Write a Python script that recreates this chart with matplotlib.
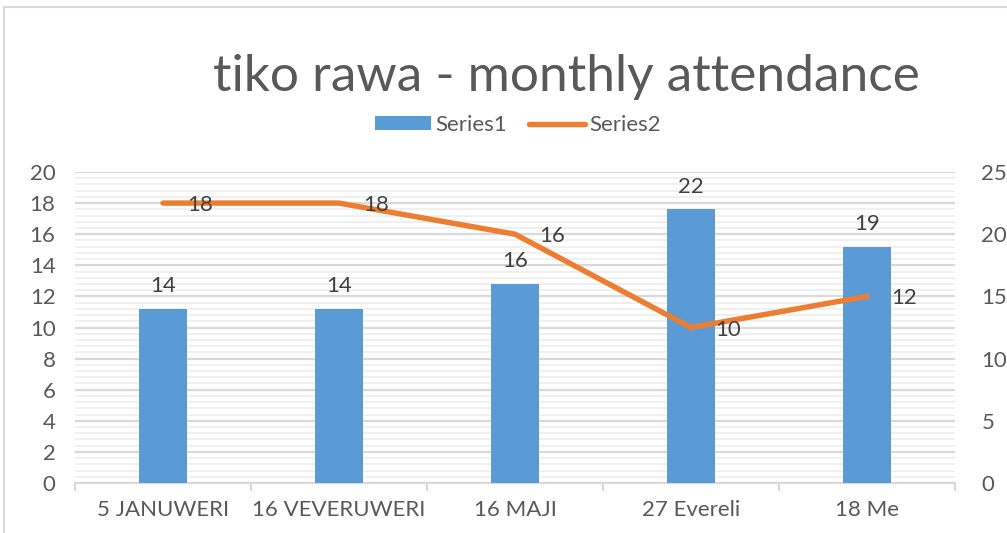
import matplotlib
matplotlib.use("Agg")
import matplotlib.pyplot as plt
from matplotlib.lines import Line2D
from matplotlib.patches import Patch
import numpy as np

categories = ["5 JANUWERI", "16 VEVERUWERI", "16 MAJI", "27 Evereli", "18 Me"]
series1 = [14, 14, 16, 22, 19]
series2 = [18, 18, 16, 10, 12]
title = "tiko rawa - monthly attendance"

plt.rcParams['font.family'] = ['Lato', 'DejaVu Sans']
TXT = "#595959"
BLUE = "#5B9BD5"
ORANGE = "#ED7D31"
GRID_MAJ = "#D9D9D9"
GRID_MIN = "#EEEEEE"
FS = 16

fig = plt.figure(figsize=(10.07, 5.33), dpi=100)
W, H = 1007, 533
ax = fig.add_axes([75 / W, 1 - 483 / H, (955 - 75) / W, (483 - 172) / H])
x = np.arange(len(categories))

# left axis: grid + labels
ax.set_ylim(0, 20)
ax.set_xlim(-0.5, len(categories) - 0.5)
ax.set_yticks(np.arange(0, 21, 2))
ax.set_yticks(np.arange(0, 20.01, 0.4), minor=True)
ax.grid(axis='y', which='major', color=GRID_MAJ, linewidth=1.6)
ax.grid(axis='y', which='minor', color=GRID_MIN, linewidth=1.2)
ax.set_axisbelow(True)
ax.tick_params(axis='y', which='both', length=0, labelsize=FS, labelcolor=TXT, pad=14)
ax.set_xticks(x)
ax.set_xticklabels(categories)
ax.set_xticks(np.arange(-0.5, len(categories)), minor=True)
ax.tick_params(axis='x', which='major', length=0, labelsize=FS, labelcolor=TXT, pad=12)
ax.tick_params(axis='x', which='minor', length=6, color=GRID_MAJ, width=1.5)
for s in ['top', 'left', 'right']:
    ax.spines[s].set_visible(False)
ax.spines['bottom'].set_color(GRID_MAJ)
ax.spines['bottom'].set_linewidth(1.5)

# right axis: bars
ax2 = ax.twinx()
ax2.set_ylim(0, 25)
ax2.set_yticks(np.arange(0, 26, 5))
ax2.tick_params(axis='y', length=0, labelsize=FS, labelcolor=TXT, pad=19)
for s in ax2.spines.values():
    s.set_visible(False)
bars = ax2.bar(x, series1, width=0.27, color=BLUE, zorder=2)
ax2.bar_label(bars, labels=[str(v) for v in series1], padding=9, fontsize=FS, color="#404040")

# line on top (left scale)
ax3 = ax.twinx()
ax3.set_ylim(0, 20)
ax3.set_yticks([])
for s in ax3.spines.values():
    s.set_visible(False)
ax3.plot(x, series2, color=ORANGE, linewidth=3.9, solid_capstyle='round', zorder=3)
for xi, v in zip(x, series2):
    ax3.annotate(str(v), (xi, v), xytext=(37, -2), textcoords='offset pixels',
                 ha='center', va='center', fontsize=FS, color="#404040")

fig.text(566 / W, 1 - 77 / H, title, ha='center', va='center', fontsize=37, color=TXT)

handles = [Patch(facecolor=BLUE, edgecolor='none'),
           Line2D([0], [0], color=ORANGE, linewidth=3.9, solid_capstyle='round')]
fig.legend(handles, ["Series1", "Series2"], loc='center', bbox_to_anchor=(518 / W, 1 - 125 / H),
           ncol=2, frameon=False, fontsize=FS, labelcolor=TXT, handlelength=2.5,
           handleheight=0.55, handletextpad=0.2, columnspacing=1.0)

# outer chart frame
fig.add_artist(Line2D([4 / W, 1], [1 - 7 / H, 1 - 7 / H], color="#D9D9D9", linewidth=1.5, transform=fig.transFigure))
fig.add_artist(Line2D([4 / W, 4 / W], [1 - 7 / H, 0], color="#D9D9D9", linewidth=1.5, transform=fig.transFigure))

fig.savefig("out.png", dpi=100)
